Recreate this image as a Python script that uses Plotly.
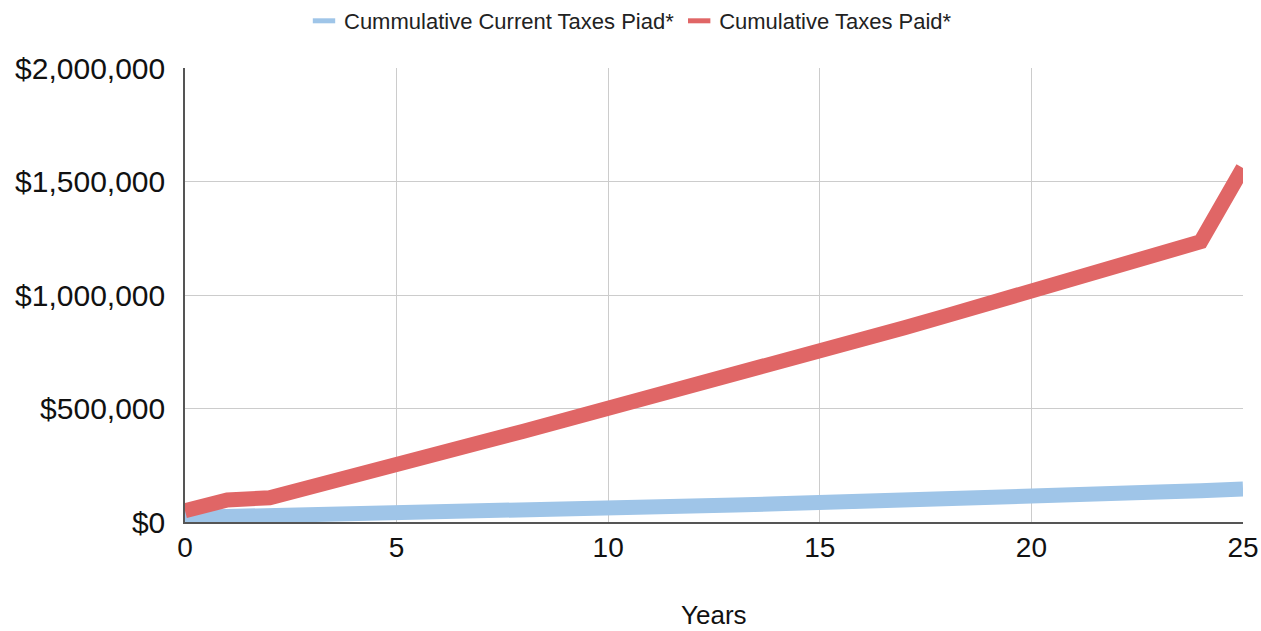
import plotly.graph_objects as go

years = list(range(0, 26))
current_taxes = [20000, 23000, 26000, 30000, 34000, 38000, 42000, 47000, 52000, 57000,
                 62000, 66000, 70000, 75000, 80000, 84000, 90000, 95000, 101000, 107000,
                 113000, 119000, 125000, 132000, 138000, 145000]
total_taxes = [50000, 97000, 107000, 153000, 204000, 255000, 303000, 351000, 400000, 449000,
               498000, 548000, 598000, 648000, 700000, 752000, 804000, 856000, 909000, 962000,
               1015000, 1070000, 1125000, 1181000, 1235000, 1560000]
names = ["Cummulative Current Taxes Piad*", "Cumulative Taxes Paid*"]
colors = ["#9fc5e8", "#e06666"]
y_ticks = [0, 500000, 1000000, 1500000, 2000000]
y_labels = ["$0", "$500,000", "$1,000,000", "$1,500,000", "$2,000,000"]
x_ticks = [0, 5, 10, 15, 20, 25]
x_title = "Years"

fig = go.Figure()
for vals, c in zip([current_taxes, total_taxes], colors):
    fig.add_trace(go.Scatter(x=years, y=vals, mode="lines", showlegend=False,
                             line=dict(color=c, width=15), hoverinfo="skip"))
for n, c in zip(names, colors):
    fig.add_trace(go.Scatter(x=[None], y=[None], mode="markers", name=n,
                             marker=dict(symbol="line-ew-open", size=17, color=c,
                                         line=dict(color=c, width=6))))

font = "Liberation Sans, Arial, sans-serif"
fig.update_layout(
    width=1261, height=631,
    margin=dict(l=185, r=18, t=68, b=109, autoexpand=False),
    paper_bgcolor="white", plot_bgcolor="white",
    font=dict(family=font, color="#222222", size=26),
    legend=dict(orientation="h", xref="container", x=0.5, xanchor="center",
                yref="container", y=1.0, yanchor="top",
                font=dict(size=22, color="#222222"), itemwidth=30),
    xaxis=dict(range=[0, 25], tickvals=x_ticks, showgrid=True, gridcolor="#cccccc",
               gridwidth=1, showline=True, linecolor="#555555", linewidth=1.5,
               ticks="", zeroline=False, automargin=False,
               tickfont=dict(size=28, color="#111111")),
    yaxis=dict(range=[0, 2000000], tickvals=y_ticks, ticktext=y_labels, showgrid=True,
               gridcolor="#cccccc", gridwidth=1, showline=True, linecolor="#555555",
               linewidth=1.5, ticks="", zeroline=False, ticklabelstandoff=12,
               automargin=False, tickfont=dict(size=30, color="#111111")),
    annotations=[dict(text=x_title, xref="paper", x=0.5, xanchor="center",
                      yref="paper", y=-0.2048, yanchor="middle", showarrow=False,
                      font=dict(size=26, color="#111111"))],
)
fig.write_html("out.html")
